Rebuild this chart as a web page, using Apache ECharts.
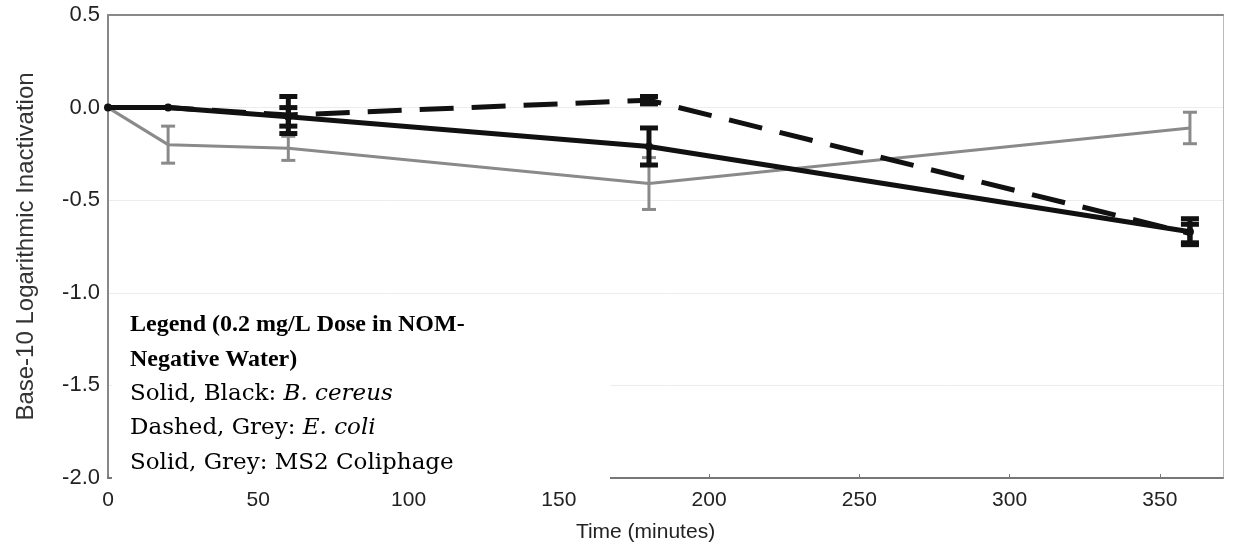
<!DOCTYPE html>
<html>
<head>
<meta charset="utf-8">
<script src="https://cdn.jsdelivr.net/npm/echarts@6/dist/echarts.min.js"></script>
<style>
  html, body { margin: 0; background: #fff; }
  #chart { width: 1233px; height: 548px; }
</style>
</head>
<body>
<div id="chart"></div>
<script>
// time points (minutes)
const times = [0, 20, 60, 180, 360];
// log inactivation values and error half-widths
const bCereus = [0, 0, -0.05, -0.21, -0.67];
const bCereusErr = [0, 0, 0.05, 0.1, 0.07];
const eColi = [0, 0, -0.04, 0.04, -0.68];
const eColiErr = [0, 0, 0.1, 0.02, 0.05];
const ms2 = [0, -0.2, -0.22, -0.41, -0.11];
const ms2Err = [0, 0.1, 0.065, 0.14, 0.085];

const legendLines = [
  '{b|Legend (0.2 mg/L Dose in NOM-}',
  '{b|Negative Water)}',
  '{n|Solid, Black: }{i|B. cereus}',
  '{n|Dashed, Grey: }{i|E. coli}',
  '{n|Solid, Grey: MS2 Coliphage}'
];

function pairs(vals) {
  return times.map((t, i) => [t, vals[i]]);
}
function errData(vals, errs) {
  const out = [];
  times.forEach((t, i) => {
    if (errs[i] > 0) out.push([t, vals[i] - errs[i], vals[i] + errs[i]]);
  });
  return out;
}
function errSeries(vals, errs, color, width, capW) {
  return {
    type: 'custom',
    data: errData(vals, errs),
    z: 5,
    renderItem: function (params, api) {
      const lo = api.coord([api.value(0), api.value(1)]);
      const hi = api.coord([api.value(0), api.value(2)]);
      const style = { stroke: color, lineWidth: width };
      return {
        type: 'group',
        children: [
          { type: 'line', shape: { x1: lo[0], y1: lo[1], x2: hi[0], y2: hi[1] }, style: style },
          { type: 'line', shape: { x1: lo[0] - capW, y1: lo[1], x2: lo[0] + capW, y2: lo[1] }, style: style },
          { type: 'line', shape: { x1: hi[0] - capW, y1: hi[1], x2: hi[0] + capW, y2: hi[1] }, style: style }
        ]
      };
    }
  };
}

const chart = echarts.init(document.getElementById('chart'));
chart.setOption({
  animation: false,
  grid: { left: 108, right: 10, top: 15, bottom: 70 },
  xAxis: [{
    type: 'value',
    min: 0,
    max: 371,
    interval: 50,
    name: 'Time (minutes)',
    nameLocation: 'middle',
    nameGap: 44,
    nameTextStyle: { fontFamily: 'Liberation Sans', fontSize: 21, color: '#222', padding: [0, 40, 0, 0] },
    axisLine: { show: true, onZero: false, lineStyle: { color: '#777', width: 2 } },
    axisTick: { show: true, inside: true, length: 4, lineStyle: { color: '#777' } },
    axisLabel: { showMaxLabel: false, margin: 12, fontFamily: 'Liberation Sans', fontSize: 21, color: '#222' },
    splitLine: { show: false }
  }, {
    type: 'value',
    position: 'top',
    min: 0,
    max: 371,
    axisLine: { show: true, onZero: false, lineStyle: { color: '#888', width: 2 } },
    axisTick: { show: false },
    axisLabel: { show: false },
    splitLine: { show: false }
  }],
  yAxis: [{
    type: 'value',
    min: -2,
    max: 0.5,
    interval: 0.5,
    name: 'Base-10 Logarithmic Inactivation',
    nameLocation: 'middle',
    nameGap: 70,
    nameTextStyle: { fontFamily: 'Liberation Sans', fontSize: 24, color: '#333' },
    axisLine: { show: true, onZero: false, lineStyle: { color: '#888', width: 2 } },
    axisTick: { show: false },
    axisLabel: {
      margin: 8,
      fontFamily: 'Liberation Sans',
      fontSize: 22,
      color: '#222',
      formatter: v => v.toFixed(1)
    },
    splitLine: { show: true, lineStyle: { color: '#ececec', width: 1 } }
  }, {
    type: 'value',
    position: 'right',
    min: -2,
    max: 0.5,
    axisLine: { show: true, onZero: false, lineStyle: { color: '#bbb', width: 1 } },
    axisTick: { show: false },
    axisLabel: { show: false },
    splitLine: { show: false }
  }],
  series: [
    {
      name: 'MS2 Coliphage',
      type: 'line',
      data: pairs(ms2),
      symbol: 'none',
      lineStyle: { color: '#8a8a8a', width: 3 },
      z: 2
    },
    errSeries(ms2, ms2Err, '#8a8a8a', 3, 7),
    {
      name: 'E. coli',
      type: 'line',
      data: pairs(eColi),
      symbol: 'none',
      lineStyle: { color: '#111', width: 5, type: [34, 18] },
      z: 3
    },
    errSeries(eColi, eColiErr, '#111', 5, 9),
    {
      name: 'B. cereus',
      type: 'line',
      data: pairs(bCereus),
      symbol: 'circle',
      symbolSize: 8,
      itemStyle: { color: '#111' },
      lineStyle: { color: '#111', width: 5 },
      z: 4
    },
    errSeries(bCereus, bCereusErr, '#111', 5, 9)
  ],
  graphic: [
    {
      type: 'rect',
      left: 112,
      top: 306,
      shape: { width: 498, height: 178 },
      style: { fill: '#fff' },
      z: 50
    },
    {
      type: 'text',
      left: 130,
      top: 313,
      z: 51,
      style: {
        text: legendLines.join('\n'),
        rich: {
          b: { fontFamily: 'Liberation Serif', fontWeight: 'bold', fontSize: 24, color: '#222', lineHeight: 34.5 },
          n: { fontFamily: 'DejaVu Serif', fontSize: 23, color: '#222', lineHeight: 34.5 },
          i: { fontFamily: 'DejaVu Serif', fontStyle: 'italic', fontSize: 23, color: '#222', lineHeight: 34.5 }
        }
      }
    }
  ]
});
</script>
</body>
</html>
